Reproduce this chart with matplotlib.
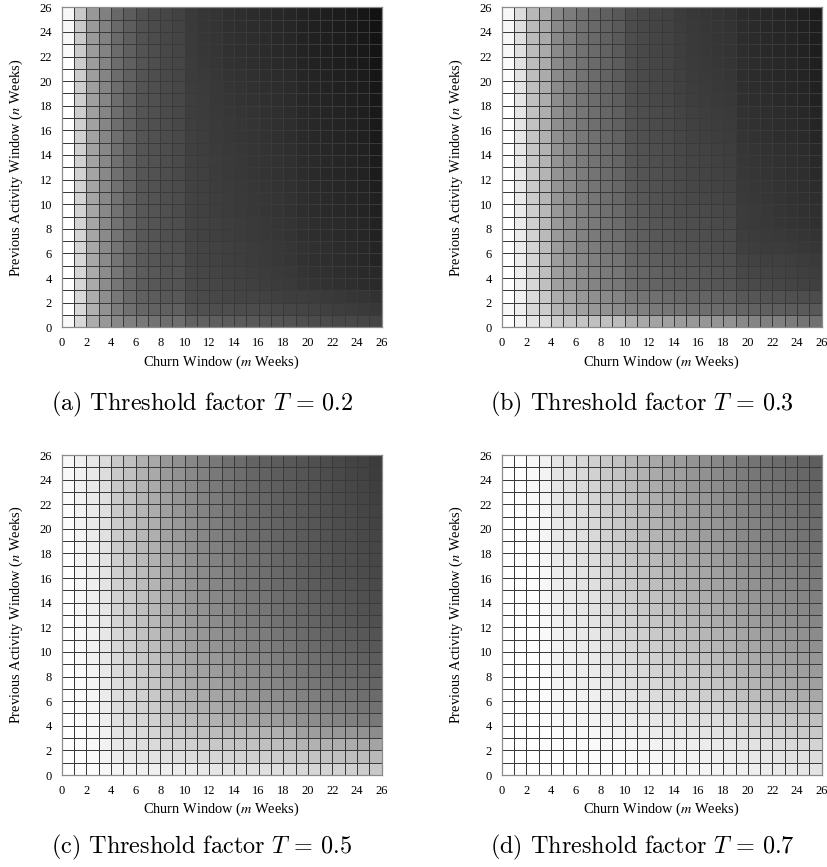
import numpy as np
import matplotlib
matplotlib.use("Agg")
import matplotlib.pyplot as plt

# gray level of each cell (0 = black, 255 = white), rows are n = 0..25 (bottom to top),
# columns are m = 0..25 (left to right)
gray_t02 = [
    [248, 216, 172, 152, 136, 128, 120, 114, 110, 110, 98, 96, 94, 92, 90, 88, 86, 84, 82, 78, 76, 74, 72, 72, 70, 68],
    [255, 216, 176, 146, 124, 112, 102, 98, 96, 96, 82, 80, 78, 78, 76, 76, 74, 72, 70, 68, 66, 64, 62, 60, 58, 56],
    [255, 216, 172, 142, 120, 106, 96, 92, 88, 88, 76, 74, 72, 70, 68, 68, 66, 64, 62, 62, 60, 58, 56, 54, 52, 50],
    [255, 214, 170, 140, 118, 104, 92, 88, 84, 84, 74, 72, 70, 68, 66, 64, 62, 60, 58, 54, 52, 50, 48, 46, 44, 42],
    [255, 214, 170, 140, 118, 104, 92, 88, 84, 84, 72, 70, 68, 66, 64, 62, 60, 58, 56, 52, 50, 48, 46, 44, 42, 40],
    [255, 214, 168, 138, 116, 102, 90, 86, 82, 82, 70, 68, 66, 64, 62, 60, 58, 56, 54, 50, 48, 46, 44, 42, 40, 36],
    [255, 213, 168, 138, 116, 102, 90, 86, 82, 80, 70, 68, 66, 64, 62, 60, 58, 56, 54, 50, 48, 46, 44, 42, 40, 36],
    [255, 212, 166, 138, 116, 100, 88, 84, 80, 78, 68, 66, 64, 62, 60, 58, 56, 54, 52, 48, 46, 44, 42, 40, 38, 34],
    [255, 212, 166, 136, 114, 100, 88, 84, 80, 78, 68, 66, 64, 62, 60, 58, 56, 54, 52, 48, 46, 44, 42, 40, 38, 34],
    [255, 211, 166, 136, 114, 100, 88, 84, 80, 76, 67, 65, 62, 60, 58, 56, 54, 52, 50, 46, 44, 42, 40, 38, 36, 32],
    [255, 211, 165, 136, 114, 99, 87, 83, 79, 76, 67, 65, 62, 60, 58, 56, 54, 52, 50, 46, 44, 42, 40, 38, 36, 32],
    [255, 210, 164, 136, 113, 98, 86, 82, 78, 75, 66, 64, 61, 59, 57, 55, 53, 51, 49, 45, 43, 41, 39, 37, 35, 30],
    [255, 210, 164, 136, 112, 98, 86, 82, 78, 74, 66, 64, 60, 58, 56, 54, 52, 50, 48, 44, 42, 40, 38, 36, 34, 28],
    [255, 209, 163, 135, 112, 98, 86, 82, 78, 74, 65, 63, 60, 58, 56, 54, 52, 50, 48, 44, 42, 40, 38, 36, 34, 28],
    [255, 208, 162, 135, 111, 97, 85, 81, 77, 73, 64, 62, 59, 57, 55, 53, 51, 49, 47, 43, 41, 39, 37, 35, 33, 27],
    [255, 208, 162, 134, 111, 97, 85, 81, 76, 73, 64, 62, 58, 56, 54, 52, 50, 48, 46, 42, 40, 38, 36, 34, 32, 26],
    [255, 207, 161, 134, 110, 96, 84, 80, 76, 72, 63, 61, 58, 56, 54, 52, 50, 48, 46, 42, 40, 38, 36, 34, 32, 26],
    [255, 206, 160, 133, 110, 96, 84, 80, 75, 72, 62, 60, 57, 55, 53, 51, 49, 47, 45, 41, 39, 37, 35, 33, 31, 25],
    [255, 206, 160, 133, 109, 96, 84, 80, 74, 71, 62, 60, 56, 54, 52, 50, 48, 46, 44, 40, 38, 36, 34, 32, 30, 24],
    [255, 205, 159, 132, 109, 96, 84, 79, 74, 71, 61, 59, 56, 53, 51, 49, 47, 45, 43, 39, 37, 35, 33, 31, 29, 23],
    [255, 205, 158, 132, 108, 96, 84, 78, 73, 70, 60, 58, 55, 52, 50, 48, 46, 44, 42, 38, 36, 34, 32, 30, 28, 22],
    [255, 204, 156, 132, 108, 96, 84, 78, 72, 70, 60, 56, 54, 50, 48, 46, 44, 42, 40, 36, 34, 32, 30, 28, 26, 20],
    [250, 203, 155, 131, 107, 95, 83, 77, 72, 69, 59, 55, 53, 49, 47, 45, 43, 41, 39, 35, 33, 31, 29, 27, 25, 20],
    [248, 202, 154, 130, 106, 94, 82, 76, 71, 68, 59, 55, 53, 49, 47, 45, 43, 41, 39, 35, 33, 31, 29, 27, 24, 19],
    [248, 201, 153, 129, 105, 93, 81, 75, 71, 67, 58, 54, 52, 48, 46, 44, 42, 40, 38, 34, 32, 30, 28, 26, 23, 18],
    [248, 200, 152, 128, 104, 92, 80, 74, 70, 66, 58, 54, 52, 48, 46, 44, 42, 40, 38, 34, 32, 30, 28, 26, 22, 18],
]

gray_t03 = [
    [255, 244, 228, 220, 204, 200, 196, 192, 192, 188, 176, 168, 164, 160, 156, 152, 150, 148, 146, 136, 132, 128, 128, 124, 116, 112],
    [248, 238, 216, 204, 180, 172, 160, 152, 146, 140, 132, 128, 122, 118, 116, 112, 110, 108, 106, 100, 98, 96, 94, 92, 90, 88],
    [255, 240, 218, 200, 172, 164, 152, 144, 138, 132, 120, 116, 112, 108, 104, 102, 100, 98, 96, 88, 86, 84, 82, 80, 78, 76],
    [255, 238, 216, 192, 160, 152, 140, 132, 124, 120, 108, 104, 100, 96, 94, 92, 88, 86, 84, 76, 74, 72, 70, 68, 66, 64],
    [255, 238, 214, 190, 158, 150, 138, 130, 122, 118, 106, 102, 97, 94, 91, 89, 86, 84, 82, 72, 70, 68, 67, 65, 63, 61],
    [255, 237, 214, 189, 157, 148, 136, 128, 120, 116, 103, 99, 94, 91, 88, 86, 83, 81, 79, 68, 66, 64, 64, 62, 60, 58],
    [255, 236, 212, 188, 156, 144, 132, 124, 116, 112, 100, 96, 90, 88, 84, 82, 80, 78, 76, 64, 62, 60, 60, 58, 56, 54],
    [255, 235, 210, 186, 154, 142, 130, 122, 114, 110, 98, 94, 88, 86, 82, 80, 78, 76, 74, 62, 60, 58, 57, 55, 53, 51],
    [255, 234, 208, 185, 153, 141, 129, 121, 113, 108, 96, 92, 86, 84, 80, 78, 76, 74, 72, 60, 58, 56, 54, 52, 50, 48],
    [255, 234, 206, 184, 152, 140, 128, 120, 112, 106, 94, 90, 84, 82, 78, 76, 74, 72, 70, 60, 58, 56, 53, 51, 49, 47],
    [255, 233, 204, 182, 150, 138, 126, 118, 110, 104, 92, 88, 82, 80, 76, 73, 71, 69, 67, 58, 56, 54, 52, 50, 48, 46],
    [255, 232, 202, 181, 149, 137, 125, 117, 109, 103, 90, 86, 81, 79, 75, 71, 69, 67, 65, 57, 55, 53, 51, 49, 47, 44],
    [255, 232, 200, 180, 148, 136, 124, 116, 108, 102, 88, 84, 80, 78, 74, 70, 68, 66, 64, 56, 54, 52, 50, 48, 46, 42],
    [255, 231, 199, 179, 147, 135, 123, 115, 107, 101, 87, 83, 79, 77, 73, 69, 67, 65, 63, 55, 53, 51, 49, 47, 45, 41],
    [255, 230, 198, 178, 146, 134, 122, 114, 106, 100, 86, 82, 78, 76, 72, 68, 66, 64, 62, 54, 52, 50, 48, 46, 44, 40],
    [255, 230, 196, 176, 144, 132, 120, 112, 104, 98, 84, 80, 76, 74, 70, 66, 64, 62, 60, 52, 50, 48, 46, 44, 42, 38],
    [255, 229, 195, 175, 143, 131, 119, 111, 103, 97, 83, 79, 75, 73, 69, 65, 63, 61, 59, 51, 49, 47, 45, 43, 41, 37],
    [255, 229, 194, 174, 142, 130, 118, 110, 102, 96, 82, 78, 74, 72, 68, 64, 62, 60, 58, 50, 48, 46, 44, 42, 40, 36],
    [255, 228, 192, 172, 140, 128, 116, 108, 100, 94, 80, 76, 72, 70, 66, 62, 60, 58, 56, 48, 46, 44, 42, 40, 38, 34],
    [254, 227, 191, 172, 139, 127, 115, 107, 99, 93, 79, 75, 71, 69, 65, 61, 59, 57, 55, 47, 45, 43, 41, 39, 37, 33],
    [252, 226, 190, 171, 139, 127, 115, 107, 99, 92, 78, 74, 70, 68, 64, 60, 58, 56, 54, 46, 44, 42, 40, 38, 36, 32],
    [250, 225, 189, 171, 138, 126, 114, 106, 98, 92, 78, 74, 70, 68, 63, 59, 57, 55, 53, 46, 44, 42, 40, 38, 35, 31],
    [248, 224, 188, 170, 138, 126, 114, 106, 98, 91, 77, 73, 69, 67, 62, 58, 56, 54, 52, 45, 43, 41, 39, 37, 34, 30],
    [248, 223, 187, 170, 137, 125, 113, 105, 97, 90, 77, 73, 69, 67, 62, 58, 56, 54, 52, 45, 43, 41, 39, 37, 34, 30],
    [248, 222, 186, 169, 137, 125, 113, 105, 97, 90, 76, 72, 68, 66, 61, 57, 55, 53, 51, 44, 42, 40, 38, 36, 33, 29],
    [248, 220, 184, 168, 136, 124, 112, 104, 96, 88, 76, 72, 68, 66, 60, 56, 54, 52, 50, 44, 42, 40, 38, 36, 32, 28],
]

gray_t05 = [
    [255, 254, 252, 248, 244, 242, 240, 240, 238, 236, 234, 232, 230, 228, 226, 224, 224, 222, 220, 216, 214, 212, 210, 208, 204, 200],
    [255, 253, 250, 244, 236, 232, 228, 226, 224, 222, 220, 216, 214, 212, 210, 208, 206, 204, 202, 200, 196, 194, 192, 190, 188, 184],
    [255, 252, 248, 242, 232, 228, 222, 218, 214, 212, 208, 204, 200, 198, 196, 194, 192, 190, 186, 180, 178, 176, 174, 172, 168, 164],
    [255, 252, 247, 240, 228, 224, 218, 212, 206, 202, 196, 192, 188, 186, 184, 182, 178, 176, 174, 160, 158, 154, 152, 150, 146, 140],
    [255, 252, 246, 238, 224, 220, 214, 208, 200, 194, 188, 182, 178, 172, 168, 164, 160, 156, 152, 144, 140, 136, 132, 128, 124, 120],
    [255, 251, 245, 236, 222, 217, 210, 203, 195, 188, 180, 175, 170, 164, 160, 156, 151, 147, 143, 136, 132, 128, 124, 121, 117, 113],
    [255, 251, 245, 235, 221, 216, 208, 200, 192, 184, 175, 170, 165, 160, 155, 150, 145, 141, 136, 130, 126, 122, 118, 115, 111, 107],
    [255, 250, 244, 234, 220, 214, 204, 196, 188, 180, 170, 166, 160, 154, 148, 144, 138, 134, 128, 122, 118, 114, 110, 108, 104, 100],
    [255, 250, 243, 233, 218, 212, 202, 194, 185, 177, 167, 162, 156, 150, 145, 140, 135, 130, 125, 118, 114, 110, 106, 104, 100, 96],
    [255, 249, 242, 232, 217, 210, 200, 192, 182, 174, 164, 158, 152, 147, 141, 136, 132, 126, 122, 115, 111, 107, 103, 100, 96, 92],
    [255, 249, 241, 231, 215, 208, 197, 189, 179, 172, 160, 155, 148, 143, 137, 132, 128, 122, 118, 111, 107, 103, 99, 96, 92, 88],
    [255, 248, 241, 231, 214, 206, 194, 186, 176, 169, 157, 151, 144, 139, 133, 128, 124, 118, 114, 107, 103, 99, 95, 92, 88, 84],
    [255, 248, 240, 230, 212, 204, 192, 184, 172, 166, 154, 148, 140, 136, 128, 124, 120, 114, 110, 104, 100, 96, 92, 88, 84, 80],
    [255, 247, 239, 230, 211, 203, 191, 183, 171, 164, 152, 146, 138, 134, 126, 122, 118, 112, 108, 102, 98, 94, 90, 86, 82, 78],
    [255, 247, 239, 229, 210, 202, 190, 182, 170, 163, 150, 144, 136, 132, 124, 120, 116, 110, 106, 99, 95, 91, 87, 84, 80, 76],
    [255, 246, 238, 228, 208, 200, 188, 180, 168, 161, 148, 141, 134, 130, 121, 117, 113, 107, 103, 96, 92, 88, 84, 82, 78, 74],
    [255, 245, 237, 227, 207, 199, 187, 179, 167, 159, 147, 139, 132, 128, 119, 115, 111, 105, 101, 94, 90, 86, 82, 80, 76, 72],
    [255, 245, 237, 227, 206, 198, 186, 178, 166, 158, 146, 138, 130, 126, 118, 114, 110, 104, 100, 93, 89, 85, 81, 79, 75, 71],
    [255, 244, 236, 226, 204, 196, 184, 176, 164, 156, 144, 136, 128, 124, 116, 112, 108, 102, 98, 92, 88, 84, 80, 78, 74, 70],
    [254, 243, 235, 225, 203, 195, 183, 175, 162, 154, 143, 135, 127, 122, 115, 110, 106, 101, 97, 91, 87, 83, 79, 77, 73, 69],
    [253, 243, 235, 224, 203, 195, 182, 174, 161, 153, 142, 134, 126, 120, 114, 108, 104, 99, 95, 90, 86, 82, 78, 75, 72, 67],
    [252, 242, 234, 223, 202, 194, 181, 172, 159, 151, 140, 132, 124, 119, 112, 107, 103, 97, 94, 88, 84, 80, 76, 74, 70, 66],
    [251, 242, 234, 223, 202, 194, 180, 171, 158, 149, 139, 131, 123, 117, 111, 105, 101, 96, 92, 87, 83, 79, 75, 72, 69, 64],
    [250, 241, 233, 222, 201, 193, 179, 170, 156, 147, 138, 130, 122, 116, 110, 104, 99, 95, 91, 86, 82, 78, 74, 71, 68, 63],
    [249, 241, 233, 221, 201, 193, 177, 169, 154, 146, 137, 129, 121, 114, 109, 102, 98, 93, 89, 85, 81, 77, 73, 69, 67, 61],
    [248, 240, 232, 220, 200, 192, 176, 168, 152, 144, 136, 128, 120, 112, 108, 100, 96, 92, 88, 84, 80, 76, 72, 68, 66, 60],
]

gray_t07 = [
    [255, 255, 255, 255, 254, 254, 254, 254, 253, 253, 252, 251, 250, 249, 248, 246, 245, 244, 242, 240, 238, 236, 234, 232, 230, 228],
    [255, 255, 255, 255, 254, 254, 253, 252, 251, 250, 248, 247, 246, 245, 244, 242, 240, 238, 236, 234, 232, 230, 228, 226, 224, 220],
    [255, 255, 255, 254, 252, 252, 251, 250, 249, 248, 246, 244, 242, 240, 239, 238, 236, 234, 232, 228, 226, 224, 220, 218, 216, 212],
    [255, 255, 255, 253, 250, 250, 248, 246, 244, 242, 240, 238, 236, 234, 232, 230, 228, 226, 224, 218, 216, 214, 210, 206, 202, 200],
    [255, 255, 254, 252, 248, 247, 245, 243, 240, 238, 236, 234, 232, 230, 228, 224, 222, 220, 218, 212, 208, 206, 202, 198, 196, 192],
    [255, 255, 254, 252, 247, 246, 243, 241, 238, 235, 232, 229, 226, 224, 220, 218, 214, 212, 208, 202, 198, 194, 190, 186, 184, 180],
    [255, 255, 254, 252, 246, 245, 241, 239, 236, 232, 228, 224, 220, 216, 213, 210, 206, 202, 198, 192, 188, 184, 180, 176, 172, 168],
    [255, 255, 254, 252, 244, 242, 238, 236, 232, 228, 224, 220, 216, 212, 208, 204, 200, 196, 192, 184, 180, 176, 172, 168, 164, 160],
    [255, 255, 254, 251, 243, 241, 237, 235, 230, 226, 221, 217, 212, 208, 204, 200, 196, 191, 187, 179, 175, 171, 167, 163, 159, 155],
    [255, 255, 254, 250, 242, 240, 236, 233, 228, 223, 218, 213, 208, 204, 200, 195, 191, 186, 182, 174, 170, 166, 162, 158, 154, 149],
    [255, 255, 254, 250, 242, 239, 235, 231, 226, 221, 215, 210, 205, 201, 196, 191, 187, 182, 177, 170, 166, 162, 158, 154, 150, 144],
    [255, 255, 254, 249, 241, 237, 233, 230, 224, 218, 213, 207, 201, 197, 192, 186, 182, 177, 173, 165, 161, 157, 153, 149, 145, 139],
    [255, 255, 254, 248, 240, 236, 232, 228, 222, 216, 210, 204, 198, 194, 188, 182, 178, 172, 168, 160, 156, 152, 148, 144, 140, 134],
    [255, 255, 254, 248, 239, 235, 231, 226, 220, 214, 208, 201, 195, 191, 185, 179, 175, 169, 165, 157, 153, 148, 144, 140, 136, 130],
    [255, 255, 253, 247, 238, 234, 229, 225, 218, 212, 205, 199, 193, 188, 182, 176, 172, 166, 161, 153, 149, 145, 141, 137, 133, 127],
    [255, 255, 253, 247, 237, 233, 228, 223, 216, 210, 203, 196, 190, 185, 179, 173, 169, 163, 158, 150, 146, 141, 137, 133, 129, 123],
    [255, 255, 253, 247, 236, 232, 227, 221, 214, 208, 201, 193, 187, 182, 176, 170, 166, 160, 155, 146, 142, 137, 133, 129, 125, 119],
    [255, 255, 252, 246, 235, 231, 225, 220, 212, 206, 198, 191, 185, 179, 173, 167, 163, 157, 151, 143, 139, 134, 130, 126, 122, 116],
    [255, 255, 252, 246, 234, 230, 224, 218, 210, 204, 196, 188, 182, 176, 170, 164, 160, 154, 148, 140, 136, 130, 126, 122, 118, 112],
    [255, 255, 251, 245, 233, 229, 223, 217, 209, 203, 194, 186, 180, 174, 168, 162, 157, 151, 145, 137, 133, 127, 123, 119, 115, 109],
    [255, 255, 251, 245, 232, 228, 222, 215, 207, 201, 193, 185, 178, 171, 166, 159, 155, 149, 143, 135, 130, 125, 121, 117, 113, 107],
    [255, 255, 250, 244, 231, 227, 221, 214, 206, 200, 191, 183, 176, 169, 164, 157, 152, 146, 140, 132, 127, 122, 118, 114, 110, 104],
    [255, 254, 250, 244, 231, 227, 220, 212, 204, 198, 189, 181, 174, 167, 162, 155, 150, 143, 137, 129, 124, 120, 116, 112, 108, 102],
    [255, 254, 249, 243, 230, 226, 218, 211, 203, 197, 187, 179, 172, 164, 160, 152, 147, 141, 135, 127, 121, 117, 113, 109, 105, 99],
    [255, 254, 249, 243, 229, 225, 217, 209, 201, 195, 186, 178, 170, 162, 158, 150, 145, 138, 132, 124, 119, 115, 111, 107, 103, 97],
    [255, 254, 248, 242, 228, 224, 216, 208, 200, 194, 184, 176, 168, 160, 156, 148, 142, 136, 130, 122, 116, 112, 108, 104, 100, 94],
]

panels = [gray_t02, gray_t03, gray_t05, gray_t07]
thresholds = ["0.2", "0.3", "0.5", "0.7"]
letters = ["a", "b", "c", "d"]
window_ticks = list(range(0, 27, 2))

fig = plt.figure(figsize=(8.27, 8.67), dpi=100)

# axes boxes in pixels (left, top) measured on the 827x867 reference, each 320 px square
W, H = 827.0, 867.0
SIDE = 320.0
boxes = [(61.7, 7.3), (501.7, 7.3), (61.7, 455.0), (501.7, 455.0)]
caption_pos = [(202.0, 404.0), (642.0, 404.0), (202.0, 847.0), (642.0, 847.0)]

edges = np.arange(27)
captions, xlabels, ylabels = [], [], []
for data, thr, letter, (px, py), (cx, cy) in zip(panels, thresholds, letters, boxes, caption_pos):
    ax = fig.add_axes([px / W, (H - py - SIDE) / H, SIDE / W, SIDE / H])
    ax.pcolormesh(edges, edges, np.array(data), cmap="gray", vmin=0, vmax=255,
                  edgecolors="#3a3a3a", linewidth=0.5)
    ax.set_xlim(0, 26)
    ax.set_ylim(0, 26)
    ax.set_xticks(window_ticks)
    ax.set_yticks(window_ticks)
    ax.tick_params(length=0, pad=7, labelsize=9)
    for lab in ax.get_xticklabels() + ax.get_yticklabels():
        lab.set_family("Liberation Serif")
    for sp in ax.spines.values():
        sp.set_color("#8a8a8a")
        sp.set_linewidth(0.9)
    xl = ax.set_xlabel("Churn Window ($m$ Weeks)", family="Liberation Serif", fontsize=10,
                       math_fontfamily="stix")
    yl = ax.set_ylabel("Previous Activity Window ($n$ Weeks)", family="Liberation Serif", fontsize=10,
                       math_fontfamily="stix")
    # label offsets from the axes edge, in pixels
    ax.xaxis.set_label_coords(0.5, -26.0 / SIDE)
    ax.yaxis.set_label_coords(-37.0 / SIDE, 0.5)
    xlabels.append(xl)
    ylabels.append(yl)
    captions.append(fig.text(cx / W, (H - cy) / H, f"({letter}) Threshold factor $T\\,=\\,{thr}$",
                             family="cmr10", math_fontfamily="cm", fontsize=15.5,
                             ha="center", va="center"))

# scale text so its drawn size matches the lengths measured on the reference
fig.canvas.draw()
renderer = fig.canvas.get_renderer()
for group, target, use_height in [(captions, 303.0, False), (xlabels, 156.0, False), (ylabels, 218.0, True)]:
    ext = group[0].get_window_extent(renderer)
    size = ext.height if use_height else ext.width
    new_fs = group[0].get_fontsize() * target / size
    for t in group:
        t.set_fontsize(new_fs)

fig.savefig("out.png", dpi=100)
